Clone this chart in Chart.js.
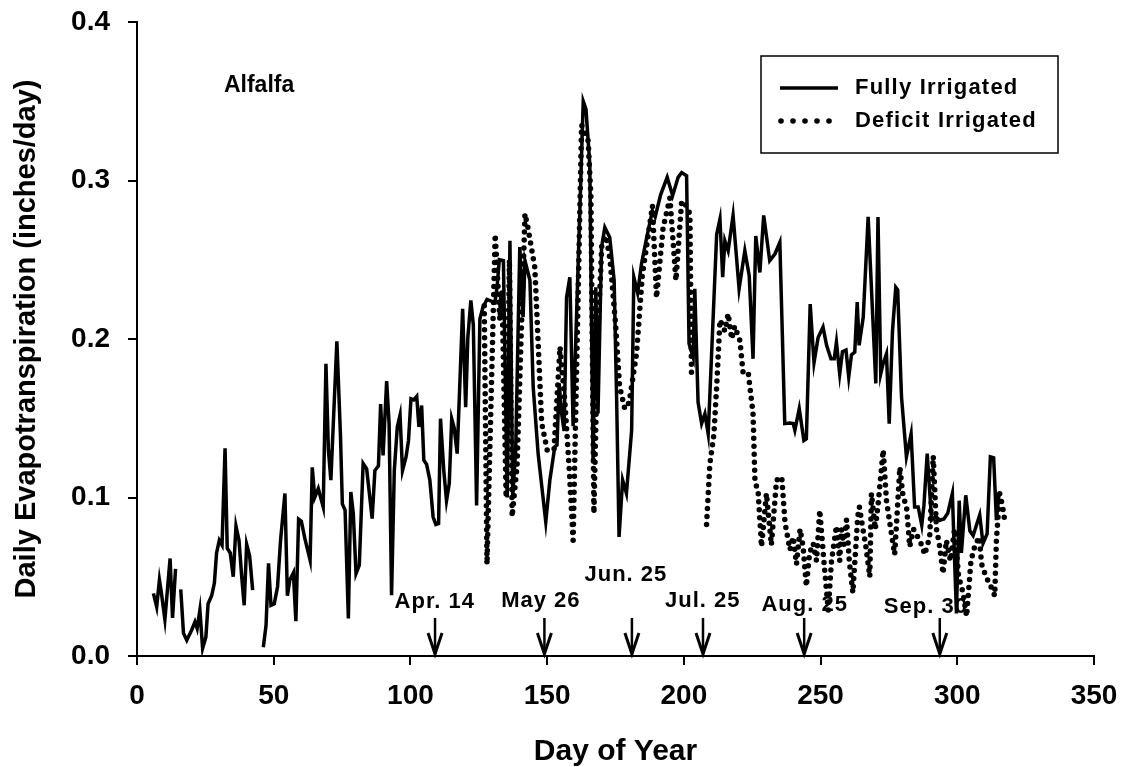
<!DOCTYPE html>
<html>
<head>
<meta charset="utf-8">
<script src="https://cdn.jsdelivr.net/npm/chart.js"></script>
<style>
  html, body { margin: 0; padding: 0; background: #fff; }
</style>
</head>
<body>
<canvas id="etChart" width="1123" height="767"></canvas>
<script>
  // Fully irrigated alfalfa, day of year / ET (in/day); null = break in the line
  const fullDays = [6, 7.2, 8.2, 8.9, 10.2, 12.1, 13, 14.1, 15, 16, 17, 18.2, 20, 21.2, 22, 23, 24, 25.2, 26, 27.3,
    28.3, 29.1, 30.1, 31.1, 32.2, 33, 34.1, 35.2, 36.2, 37.3, 38.3, 39.2, 40.1, 41.2, 42.3, 44, 46.2, 47.2, 48.1, 49,
    50.2, 51.4, 52.5, 54.1, 55, 55.9, 57.2, 58.1, 59.1, 60.1, 61.4, 63.3, 64.1, 65, 66.3, 68.1, 69.1, 70, 70.9, 73.1,
    74.4, 75.1, 76.1, 77.3, 78.2, 79.1, 80.1, 81.3, 82.7, 84, 86, 87, 88.3, 89.1, 90, 91.3, 92.2, 93.1, 94.1, 95.2,
    96.2, 97.1, 98.4, 99.3, 100.2, 101.2, 102.3, 103.1, 104.1, 104.9, 105.9, 107.1, 108.3, 109.3, 110.3, 111, 112.2, 113.2, 114.2, 115.1,
    116, 117.1, 119.1, 120.2, 121, 122.1, 123, 124.2, 125.4, 126.5, 128, 130.9, 131.7, 132.5, 134, 135.4, 136.4, 137.4, 138.5, 140,
    141.2, 141.9, 143.7, 144.9, 146.7, 149.5, 151, 152.8, 153.6, 154.4, 155.3, 156.2, 157.1, 158.3, 159.5, 163.2, 164.2, 165.6, 166.8, 167.8,
    168.6, 169.9, 171.1, 172.9, 174.5, 175.4, 176.3, 177.6, 179, 180.9, 181.7, 183.1, 184.5, 186.4, 188.5, 189.5, 191.5, 193.9, 195.9, 197.9,
    199.2, 201, 201.9, 203.4, 204, 205.2, 206.5, 207.7, 208.9, 212, 213.2, 214.2, 215, 216.2, 218, 220.2, 222.3, 223.9, 225.3, 226.3,
    227.8, 229.2, 231.4, 233.3, 235.1, 236.9, 238.7, 240, 240.6, 242.2, 243.9, 244.8, 246.2, 247.6, 249.1, 250.9, 252.2, 253.8, 255, 255.8,
    257, 258, 259.3, 260.3, 261.3, 262.5, 263.4, 264.1, 265.6, 267.4, 270.2, 271, 272, 272.8, 274.1, 275.1, 276.3, 277.5, 278.2, 279.6,
    281.4, 283.1, 284.4, 285.7, 287, 287.8, 289, 290.6, 292.1, 293.6, 295.1, 296.5, 298.2, 299.1, 299.7, 300.7, 301.5, 303.1, 304.6, 305.8,
    307.2, 308.2, 309.4, 310.9, 312.1, 313.3, 314.3, 315.3];
  const fullET = [0.0395, 0.031, 0.048, 0.04, 0.023, 0.0615, 0.024, 0.055, null, 0.042, 0.0143, 0.010, 0.0164, 0.0216, 0.0174, 0.029, 0.0048, 0.012, 0.033, 0.038,
    0.046, 0.065, 0.073, 0.070, 0.131, 0.068, 0.065, 0.050, 0.082, 0.073, 0.050, 0.032, 0.0705, 0.063, 0.0416, null, 0.0055, 0.0195, 0.0584, 0.032,
    0.033, 0.0437, 0.073, 0.1025, 0.038, 0.048, 0.0525, 0.022, 0.0863, 0.085, 0.074, 0.0605, 0.119, 0.1, 0.1056, 0.094, 0.1844, 0.130, 0.111, 0.1986,
    0.140, 0.096, 0.092, 0.0237, 0.1035, 0.090, 0.052, 0.0573, 0.1214, 0.118, 0.0867, 0.117, 0.12, 0.159, 0.1266, 0.1735, 0.1466, 0.0384, 0.117, 0.1445,
    0.152, 0.117, 0.1256, 0.136, 0.1623, 0.1616, 0.1638, 0.1445, 0.158, 0.1235, 0.121, 0.111, 0.0877, 0.083, 0.0836, 0.1497, 0.117, 0.098, 0.1088, 0.1497,
    0.144, 0.1277, 0.219, 0.157, 0.201, 0.2243, 0.209, 0.095, 0.2127, 0.22, 0.225, 0.223, 0.233, 0.25, 0.2494, 0.100, 0.262, 0.100, 0.13, 0.258,
    0.2137, 0.2494, 0.237, 0.1696, 0.1277, 0.0846, 0.111, 0.132, 0.133, 0.172, 0.153, 0.142, 0.2263, 0.239, 0.145, 0.350, 0.345, 0.310, 0.1214, 0.2326,
    0.153, 0.258, 0.2704, 0.264, 0.237, 0.1634, 0.0751, 0.111, 0.1025, 0.1424, 0.239, 0.229, 0.2473, 0.264, 0.281, 0.277, 0.291, 0.302, 0.2904, 0.302,
    0.305, 0.303, 0.197, 0.1885, 0.2316, 0.160, 0.1466, 0.1528, 0.140, 0.266, 0.2757, 0.239, 0.262, 0.2557, 0.278, 0.2316, 0.2557, 0.240, 0.1875, 0.265,
    0.242, 0.278, 0.2494, 0.2536, 0.261, 0.1466, 0.147, 0.1466, 0.1424, 0.156, 0.136, 0.137, 0.222, 0.185, 0.201, 0.2075, 0.196, 0.1875, 0.1875, 0.198,
    0.178, 0.192, 0.193, 0.176, 0.19, 0.1917, 0.2233, 0.196, 0.2137, 0.277, 0.172, 0.277, 0.178, 0.184, 0.1906, 0.1466, 0.205, 0.2326, 0.231, 0.1634,
    0.1256, 0.140, 0.094, 0.094, 0.0825, 0.095, 0.1277, 0.0857, 0.088, 0.0857, 0.0865, 0.09, 0.1025, 0.0563, 0.0269, 0.098, 0.065, 0.1014, 0.079, 0.076,
    0.0836, 0.089, 0.071, 0.077, 0.1256, 0.125, 0.0857, 0.1025];

  // Deficit irrigated alfalfa
  const deficitDays = [127, 128, 131, 132.7, 133.5, 135, 136.2, 137.2, 139, 141.9, 143, 145.5, 148, 150, 152.5, 154.7, 156.5, 158, 159.5, 162.6,
    165, 166, 167.1, 168.5, 170, 171.5, 173, 175, 176.5, 178.4, 180, 182.7, 184.8, 186.5, 188.5, 190, 192.4, 194.9, 197.1, 199.2,
    200.5, 202.2, 202.8, 205, 208.3, 209.5, 211, 212, 213.2, 215, 216.2, 217.5, 218.6, 220.5, 221.7, 223.6, 225.3, 226, 227.2, 228.4,
    230.2, 232, 233.9, 235.8, 237, 238.8, 240, 241.2, 242.5, 243.6, 244.8, 246, 247.3, 248.5, 249.7, 251.5, 252.8, 254, 255.8, 257,
    257.6, 258.5, 259.5, 260.5, 261.8, 263.6, 264.2, 265.5, 266.5, 268, 268.6, 270, 271, 272.9, 274.1, 275.3, 277.1, 279, 280.2, 281.4,
    282.6, 284, 285.6, 287, 288.1, 289.9, 291.2, 292.4, 293.4, 294.8, 296, 297.5, 299, 300.5, 302.1, 303.4, 305, 306.5, 308, 308.9,
    310.5, 312, 313.7, 314.3, 315.5, 316.5, 317.4];
  const deficitET = [0.221, 0.058, 0.266, 0.212, 0.23, 0.100, 0.25, 0.088, 0.12, 0.279, 0.27, 0.245, 0.147, 0.13, 0.13, 0.195, 0.16, 0.12, 0.073, 0.335,
    0.325, 0.29, 0.09, 0.2, 0.26, 0.265, 0.25, 0.21, 0.17, 0.156, 0.16, 0.191, 0.24, 0.26, 0.284, 0.226, 0.27, 0.289, 0.237, 0.287,
    0.285, 0.279, 0.178, null, 0.083, 0.121, 0.14, 0.17, 0.212, 0.205, 0.216, 0.2, 0.208, 0.199, 0.178, 0.178, 0.153, 0.111, 0.1025, 0.069,
    0.1025, 0.07, 0.111, 0.113, 0.084, 0.067, 0.075, 0.058, 0.08, 0.069, 0.044, 0.065, 0.071, 0.06, 0.092, 0.054, 0.029, 0.06, 0.082, 0.06,
    0.08, 0.07, 0.086, 0.06, 0.040, 0.088, 0.094, 0.08, 0.07, 0.05, 0.1025, 0.08, 0.095, 0.130, 0.098, 0.084, 0.064, 0.119, 0.1, 0.095,
    0.069, 0.08, 0.075, 0.07, 0.064, 0.075, 0.126, 0.08, 0.071, 0.052, 0.073, 0.06, 0.08, 0.05, 0.040, 0.025, 0.06, 0.07, 0.075, 0.058,
    0.05, 0.045, 0.038, 0.073, 0.1025, 0.095, 0.085];

  const xTicks = [0, 50, 100, 150, 200, 250, 300, 350];
  const yTicks = [0, 0.1, 0.2, 0.3, 0.4];

  // date arrows along the bottom
  const eventDays = [109, 149, 181, 207, 244, 293.6];
  const eventLabels = ['Apr. 14', 'May 26', 'Jun. 25', 'Jul. 25', 'Aug. 25', 'Sep. 30'];
  const eventLabelDays = [108.9, 147.7, 178.8, 206.9, 244.2, 288.5];
  const eventLabelET = [0.034, 0.035, 0.051, 0.035, 0.032, 0.031];
  const arrowTopET = 0.024;

  const seriesNames = ['Fully Irrigated', 'Deficit Irrigated'];
  const cropName = 'Alfalfa';
  const cropLabelDay = 31.8;
  const cropLabelET = 0.360;

  const FONT = '"Liberation Sans", Arial, Helvetica, sans-serif';

  function toPoints(days, vals) {
    return days.map((d, i) => ({ x: d, y: vals[i] }));
  }

  const annotate = {
    id: 'annotate',
    afterDatasetsDraw(chart) {
      const { ctx, scales: { x, y }, chartArea } = chart;
      ctx.save();
      ctx.fillStyle = '#000';
      ctx.strokeStyle = '#000';

      // arrows
      ctx.lineCap = 'butt';
      eventDays.forEach(d => {
        const px = x.getPixelForValue(d);
        const top = y.getPixelForValue(arrowTopET);
        const bot = y.getPixelForValue(0) - 2;
        ctx.lineWidth = 2.5;
        ctx.beginPath();
        ctx.moveTo(px, top);
        ctx.lineTo(px, bot);
        ctx.stroke();
        ctx.lineWidth = 3;
        ctx.beginPath();
        ctx.moveTo(px - 7, bot - 21);
        ctx.lineTo(px, bot);
        ctx.lineTo(px + 7, bot - 21);
        ctx.stroke();
      });

      ctx.letterSpacing = '1px';
      ctx.font = 'bold 22px ' + FONT;
      ctx.textAlign = 'center';
      ctx.textBaseline = 'middle';
      eventLabels.forEach((t, i) => {
        ctx.fillText(t, x.getPixelForValue(eventLabelDays[i]), y.getPixelForValue(eventLabelET[i]));
      });

      // crop name
      ctx.letterSpacing = '0px';
      ctx.font = 'bold 23px ' + FONT;
      ctx.textAlign = 'left';
      ctx.fillText(cropName, x.getPixelForValue(cropLabelDay), y.getPixelForValue(cropLabelET));

      // legend box
      const bx = chartArea.right - 333, by = chartArea.top + 34, bw = 297, bh = 97;
      ctx.lineWidth = 1.5;
      ctx.strokeRect(bx, by, bw, bh);
      const rows = [by + 32, by + 65];
      ctx.lineWidth = 3.5;
      ctx.beginPath();
      ctx.moveTo(bx + 19, rows[0]);
      ctx.lineTo(bx + 77, rows[0]);
      ctx.stroke();
      for (let k = 0; k < 5; k++) {
        ctx.beginPath();
        ctx.arc(bx + 20 + k * 12, rows[1], 2.8, 0, Math.PI * 2);
        ctx.fill();
      }
      ctx.letterSpacing = '1.2px';
      ctx.font = 'bold 22px ' + FONT;
      ctx.fillText(seriesNames[0], bx + 94, rows[0]);
      ctx.fillText(seriesNames[1], bx + 94, rows[1]);
      ctx.restore();
    }
  };

  new Chart(document.getElementById('etChart'), {
    type: 'line',
    data: {
      datasets: [{
        label: seriesNames[0],
        data: toPoints(fullDays, fullET),
        borderColor: '#000',
        borderWidth: 3.5,
        pointRadius: 0,
        tension: 0,
        spanGaps: false
      }, {
        label: seriesNames[1],
        data: toPoints(deficitDays, deficitET),
        borderColor: '#000',
        borderWidth: 5.5,
        borderDash: [0, 8],
        borderCapStyle: 'round',
        pointRadius: 0,
        tension: 0,
        spanGaps: false
      }]
    },
    options: {
      responsive: false,
      animation: false,
      events: [],
      layout: { padding: { top: 22, right: 29, left: 0, bottom: 0 } },
      plugins: {
        legend: { display: false },
        tooltip: { enabled: false }
      },
      scales: {
        x: {
          type: 'linear',
          min: 0,
          max: 350,
          afterBuildTicks: s => { s.ticks = xTicks.map(v => ({ value: v })); },
          // fixed axis band; label overhang is covered by the layout padding
          afterFit: s => { s.height = 111; s.paddingLeft = 0; s.paddingRight = 0; },
          grid: { drawOnChartArea: false, drawTicks: true, tickLength: 9, color: '#000', lineWidth: 2 },
          border: { display: true, color: '#000', width: 2 },
          ticks: { color: '#000', padding: 14, maxRotation: 0, font: { family: FONT, size: 28, weight: 'bold' } },
          title: { display: true, text: 'Day of Year', color: '#000', padding: { top: 0, bottom: 0 },
                   font: { family: FONT, size: 30, weight: 'bold', lineHeight: 1 } }
        },
        y: {
          min: 0,
          max: 0.4,
          afterBuildTicks: s => { s.ticks = yTicks.map(v => ({ value: v })); },
          afterFit: s => { s.width = 137; s.paddingTop = 0; s.paddingBottom = 0; },
          grid: { drawOnChartArea: false, drawTicks: true, tickLength: 9, color: '#000', lineWidth: 2 },
          border: { display: true, color: '#000', width: 2 },
          ticks: { color: '#000', padding: 18, callback: v => v.toFixed(1), font: { family: FONT, size: 28, weight: 'bold' } },
          title: { display: true, text: 'Daily Evapotranspiration (inches/day)', color: '#000', padding: { top: 12, bottom: 0 },
                   font: { family: FONT, size: 29, weight: 'bold', lineHeight: 1 } }
        }
      }
    },
    plugins: [annotate]
  });
</script>
</body>
</html>
